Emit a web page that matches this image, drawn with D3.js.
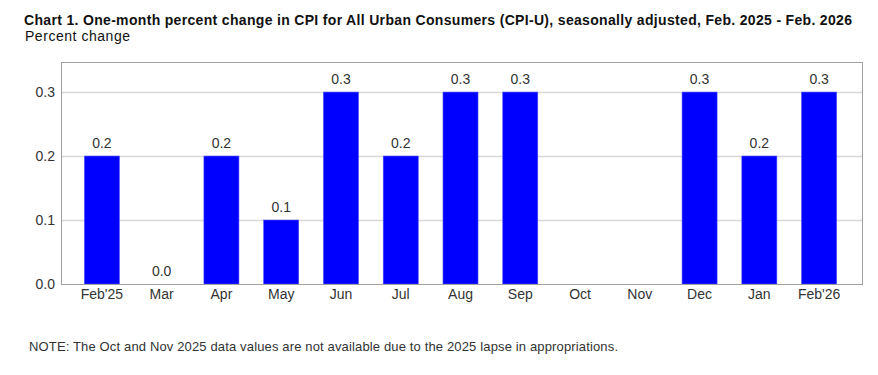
<!DOCTYPE html>
<html>
<head>
<meta charset="utf-8">
<script src="https://cdn.jsdelivr.net/npm/d3@7"></script>
<style>
  html, body { margin: 0; padding: 0; background: #fff; }
  svg { display: block; }
  text { font-family: "Liberation Sans", Arial, sans-serif; }
</style>
</head>
<body>
<svg id="chart" width="878" height="375"></svg>
<script>
const categories = ["Feb'25", "Mar", "Apr", "May", "Jun", "Jul", "Aug", "Sep", "Oct", "Nov", "Dec", "Jan", "Feb'26"];
const values = [0.2, 0.0, 0.2, 0.1, 0.3, 0.2, 0.3, 0.3, null, null, 0.3, 0.2, 0.3];
const yTicks = [0.0, 0.1, 0.2, 0.3];
const titleText = "Chart 1. One-month percent change in CPI for All Urban Consumers (CPI-U), seasonally adjusted, Feb. 2025 - Feb. 2026";
const subtitleText = "Percent change";
const noteText = "NOTE: The Oct and Nov 2025 data values are not available due to the 2025 lapse in appropriations.";

const svg = d3.select("#chart");
const frame = { left: 61, right: 862, top: 62, bottom: 284 };

const x = d3.scaleBand()
  .domain(categories)
  .range([72, 849])
  .paddingInner(0.414)
  .paddingOuter(0.207);

const y = d3.scaleLinear()
  .domain([0, 0.347])
  .range([frame.bottom, frame.top]);

// gridlines
svg.append("g")
  .selectAll("line")
  .data(yTicks.filter(d => d > 0))
  .join("line")
  .attr("x1", frame.left)
  .attr("x2", frame.right)
  .attr("y1", d => Math.round(y(d)) + 0.5)
  .attr("y2", d => Math.round(y(d)) + 0.5)
  .attr("stroke", "#d8d8d8")
  .attr("stroke-width", 1.5);

// bars
const valid = categories.map((c, i) => ({ c, v: values[i] })).filter(d => d.v !== null);
svg.append("g")
  .selectAll("rect")
  .data(valid.filter(d => d.v > 0))
  .join("rect")
  .attr("x", d => x(d.c))
  .attr("width", x.bandwidth())
  .attr("y", d => y(d.v))
  .attr("height", d => y(0) - y(d.v))
  .attr("fill", "#0000ff")
  .attr("stroke", "#4d4dff")
  .attr("stroke-width", 0.6);

// frame
svg.append("rect")
  .attr("x", frame.left + 0.5)
  .attr("y", frame.top + 0.5)
  .attr("width", frame.right - frame.left)
  .attr("height", frame.bottom - frame.top)
  .attr("fill", "none")
  .attr("stroke", "#a0a0a0")
  .attr("stroke-width", 1);

// y axis labels
const yAxis = d3.axisLeft(y).tickValues(yTicks).tickFormat(d3.format(".1f")).tickSize(0).tickPadding(6);
const gy = svg.append("g").attr("transform", `translate(${frame.left},0)`).call(yAxis);
gy.select(".domain").remove();
gy.selectAll("text").attr("fill", "#333").style("font-size", "14px").style("font-family", "'Liberation Sans', Arial, sans-serif");

// x axis labels
const xAxis = d3.axisBottom(x).tickSize(0).tickPadding(5);
const gx = svg.append("g").attr("transform", `translate(0,${frame.bottom})`).call(xAxis);
gx.select(".domain").remove();
gx.selectAll("text").attr("fill", "#333").style("font-size", "14px").style("font-family", "'Liberation Sans', Arial, sans-serif");

// value labels
svg.append("g")
  .selectAll("text")
  .data(valid)
  .join("text")
  .attr("x", d => x(d.c) + x.bandwidth() / 2)
  .attr("y", d => y(d.v) - 8)
  .attr("text-anchor", "middle")
  .attr("fill", "#333")
  .style("font-size", "14px")
  .text(d => d3.format(".1f")(d.v));

// title
svg.append("text")
  .attr("x", 24).attr("y", 25)
  .attr("fill", "#111")
  .style("font-size", "14px")
  .style("font-weight", "bold")
  .attr("textLength", 828)
  .attr("lengthAdjust", "spacing")
  .text(titleText);

svg.append("text")
  .attr("x", 25).attr("y", 41)
  .attr("fill", "#111")
  .style("font-size", "14px")
  .attr("textLength", 105)
  .attr("lengthAdjust", "spacing")
  .text(subtitleText);

svg.append("text")
  .attr("x", 29).attr("y", 351)
  .attr("fill", "#333")
  .style("font-size", "13px")
  .attr("textLength", 589)
  .attr("lengthAdjust", "spacing")
  .text(noteText);
</script>
</body>
</html>
